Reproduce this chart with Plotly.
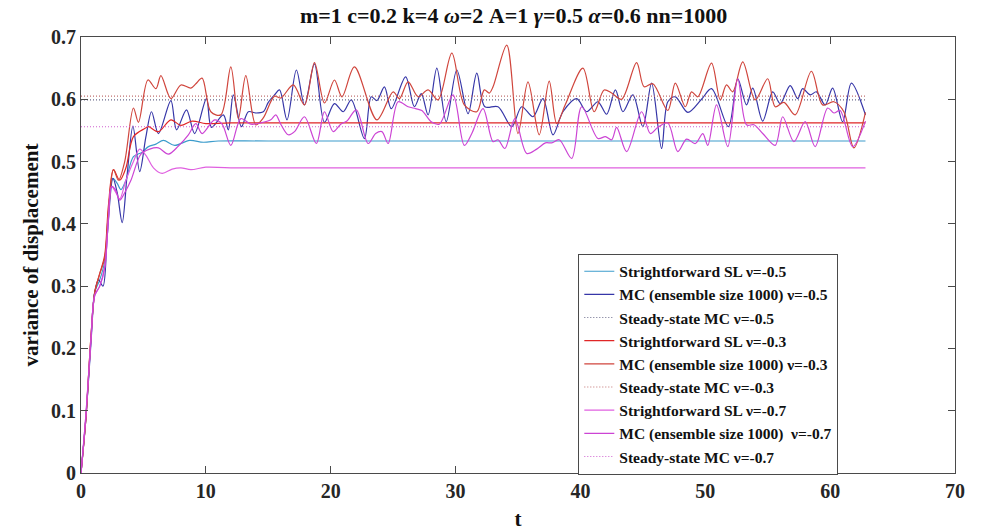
import plotly.graph_objects as go

T_END = 62.83

# ---------------- data ----------------
# Strightforward SL nu=-0.5
t_sl05 = [0, 0.4, 0.8, 1.1, 1.5, 1.9, 2.2, 2.55, 2.9, 3.2, 3.6, 4.2, 4.9, 5.4, 6.0, 6.6, 7.5, 8.7, 9.8, 11, 15, T_END]
v_sl05 = [0, 0.09, 0.215, 0.29, 0.31, 0.34, 0.42, 0.473, 0.465, 0.455, 0.47, 0.508, 0.515, 0.524, 0.528, 0.534, 0.526, 0.534, 0.531, 0.533, 0.533, 0.533]

# MC nu=-0.5
t_mc05 = [0, 0.4, 0.8, 1.1, 1.4, 1.76, 2.1, 2.56, 2.9, 3.3, 3.7, 4.16, 4.7, 5.2, 5.65, 6.2, 7.2, 7.65, 8.45, 9.1,
          10.05, 10.45, 11.4, 11.8, 12.2, 12.85, 13.4, 14.0, 14.6, 15.0, 15.5, 15.9, 16.5, 17.25, 17.9, 18.7, 19.5,
          20.3, 21.0, 21.65, 22.7, 23.25, 23.7, 24.3, 24.85, 26.0, 26.7, 27.25, 27.8, 28.5, 29.25, 30.1, 31.0, 31.7,
          32.35, 33.4, 34.5, 35.3, 36.2, 37.0, 37.8, 38.6, 39.7, 40.5, 41.4, 42.1, 42.8, 43.4, 44.2, 45.0, 45.7, 46.5,
          47.0, 47.6, 48.6, 49.7, 50.5, 51.85, 52.6, 53.3, 53.8, 54.6, 55.4, 56.0, 56.8, 57.4, 57.8, 58.4, 58.9,
          59.6, 60.2, 61.0, 61.7, T_END]
v_mc05 = [0, 0.09, 0.21, 0.29, 0.31, 0.30, 0.38, 0.473, 0.45, 0.402, 0.48, 0.557, 0.484, 0.54, 0.58, 0.545, 0.598, 0.551, 0.583, 0.545,
          0.601, 0.555, 0.575, 0.551, 0.607, 0.556, 0.58, 0.578, 0.58, 0.595, 0.607, 0.615, 0.567, 0.647, 0.591, 0.657, 0.563,
          0.593, 0.58, 0.599, 0.537, 0.604, 0.598, 0.620, 0.585, 0.636, 0.588, 0.609, 0.575, 0.650, 0.564, 0.647, 0.577, 0.642,
          0.588, 0.588, 0.556, 0.588, 0.572, 0.601, 0.543, 0.58, 0.601, 0.580, 0.596, 0.576, 0.615, 0.580, 0.607, 0.556, 0.626, 0.521,
          0.596, 0.604, 0.579, 0.600, 0.617, 0.556, 0.633, 0.591, 0.618, 0.565, 0.612, 0.593, 0.622, 0.601, 0.617, 0.607, 0.612,
          0.591, 0.618, 0.564, 0.626, 0.575]

ss05 = 0.599

# Strightforward SL nu=-0.3
t_sl03 = [0, 0.4, 0.8, 1.1, 1.5, 1.9, 2.2, 2.6, 3.1, 3.6, 4.2, 5.1, 5.4, 6.2, 7.2, 8.0, 8.9, 10, 12, T_END]
v_sl03 = [0, 0.09, 0.22, 0.29, 0.32, 0.35, 0.43, 0.487, 0.47, 0.49, 0.540, 0.553, 0.556, 0.548, 0.567, 0.558, 0.565, 0.561, 0.562, 0.562]

# MC nu=-0.3
t_mc03 = [0, 0.4, 0.8, 1.1, 1.5, 1.9, 2.2, 2.6, 3.0, 3.5, 4.2, 4.6, 5.36, 6.0, 6.4, 7.2, 8.0, 8.8, 9.2, 9.7,
          10.4, 11.2, 12.0, 12.6, 13.2, 14.0, 14.6, 15.5, 16.0, 17.0, 17.9, 18.7, 19.5, 20.3, 20.9, 21.9, 23.7,
          25.0, 25.5, 26.2, 27.0, 27.8, 28.6, 29.7, 30.7, 31.7, 32.3, 32.7, 33.0, 34.1, 35.0, 35.8, 36.7, 37.5,
          38.1, 38.8, 40.2, 41.1, 41.9, 42.5, 43.3, 44.5, 45.1, 45.8, 47.0, 47.6, 48.4, 48.9, 49.4, 50.5, 51.2,
          51.7, 52.2, 53.0, 54.0, 55.0, 55.6, 56.3, 57.2, 58.5, 59.4, 60.3, 61.1, 61.9, T_END]
v_mc03 = [0, 0.09, 0.22, 0.29, 0.32, 0.345, 0.42, 0.487, 0.47, 0.5, 0.586, 0.563, 0.631, 0.617, 0.638, 0.601, 0.623, 0.618, 0.625, 0.634,
          0.580, 0.575, 0.652, 0.569, 0.638, 0.559, 0.570, 0.605, 0.602, 0.623, 0.591, 0.659, 0.594, 0.631, 0.604, 0.652, 0.567,
          0.612, 0.601, 0.628, 0.604, 0.615, 0.599, 0.674, 0.591, 0.580, 0.615, 0.610, 0.62, 0.687, 0.545, 0.628, 0.543, 0.629,
          0.561, 0.592, 0.650, 0.580, 0.615, 0.61, 0.600, 0.659, 0.620, 0.625, 0.582, 0.626, 0.588, 0.612, 0.604, 0.658, 0.599,
          0.623, 0.612, 0.660, 0.599, 0.633, 0.588, 0.595, 0.575, 0.645, 0.591, 0.596, 0.58, 0.522, 0.579]

ss03 = 0.605

# Strightforward SL nu=-0.7
t_sl07 = [0, 0.4, 0.8, 1.1, 1.5, 1.9, 2.2, 2.45, 2.8, 3.1, 3.6, 4.2, 4.7, 5.2, 5.8, 6.5, 7.3, 8.0, 8.8, 10, 12, T_END]
v_sl07 = [0, 0.095, 0.215, 0.285, 0.3, 0.33, 0.41, 0.46, 0.45, 0.44, 0.47, 0.50, 0.52, 0.51, 0.49, 0.481, 0.488, 0.49, 0.487, 0.491, 0.49, 0.49]

# MC nu=-0.7
t_mc07 = [0, 0.4, 0.8, 1.1, 1.5, 1.9, 2.2, 2.45, 2.75, 3.1, 3.5, 4.0, 4.8, 5.5, 6.2, 7.0, 7.8, 8.6, 9.2, 9.7,
          10.7, 11.3, 12.0, 12.8, 13.6, 14.4, 15.2, 15.6, 16.0, 16.6, 17.1, 17.9, 18.85, 19.5, 20.2, 20.8, 21.3,
          22.05, 23.0, 23.6, 24.1, 24.6, 25.4, 26.2, 26.8, 27.3, 28.05, 28.7, 29.8, 30.7, 31.3, 32.2, 33.0, 33.4,
          33.95, 34.75, 35.7, 36.5, 37.2, 37.7, 38.3, 39.3, 40.1, 41.4, 42.0, 42.5, 42.9, 43.7, 44.9, 45.6, 46.2,
          47.0, 47.8, 48.5, 49.2, 49.8, 50.2, 50.9, 51.8, 52.6, 53.3, 53.9, 54.6, 55.6, 56.2, 57.1, 58.0, 58.8,
          59.8, 60.3, 60.8, 61.8, T_END]
v_mc07 = [0, 0.095, 0.215, 0.285, 0.3, 0.33, 0.41, 0.46, 0.455, 0.438, 0.45, 0.47, 0.512, 0.52, 0.522, 0.512, 0.525, 0.543, 0.561, 0.545,
          0.567, 0.56, 0.526, 0.569, 0.56, 0.562, 0.567, 0.575, 0.56, 0.543, 0.548, 0.572, 0.529, 0.580, 0.548, 0.56, 0.565,
          0.583, 0.529, 0.545, 0.548, 0.529, 0.596, 0.588, 0.585, 0.582, 0.564, 0.56, 0.607, 0.526, 0.545, 0.585, 0.532, 0.535,
          0.521, 0.569, 0.513, 0.52, 0.53, 0.53, 0.535, 0.505, 0.588, 0.537, 0.54, 0.535, 0.555, 0.516, 0.580, 0.545, 0.555,
          0.562, 0.516, 0.536, 0.529, 0.545, 0.526, 0.591, 0.524, 0.633, 0.559, 0.559, 0.545, 0.526, 0.572, 0.532, 0.564, 0.524,
          0.586, 0.578, 0.582, 0.524, 0.565]

ss07 = 0.556

t_ss = [0, T_END]

x_ticks = [0, 10, 20, 30, 40, 50, 60, 70]
y_ticks = [0, 0.1, 0.2, 0.3, 0.4, 0.5, 0.6, 0.7]

# ---------------- figure ----------------
FONT = "Liberation Serif"
fig = go.Figure()

def line(t, v, name, color, dash="solid", width=1.2, spline=True):
    fig.add_trace(go.Scatter(
        x=t, y=v, mode="lines", name=name,
        line=dict(color=color, width=width, dash=dash,
                  shape="spline" if spline else "linear", smoothing=0.9),
    ))

DOT = "1px,2px"
line(t_sl05, v_sl05, "Strightforward SL ν=-0.5", "#3c9ccc")
line(t_mc05, v_mc05, "MC (ensemble size 1000) ν=-0.5", "#3636a8")
line(t_ss, [ss05, ss05], "Steady-state MC ν=-0.5", "#6a6a8a", dash=DOT, width=1.1, spline=False)
line(t_sl03, v_sl03, "Strightforward SL ν=-0.3", "#e02626")
line(t_mc03, v_mc03, "MC (ensemble size 1000) ν=-0.3", "#d0453c")
line(t_ss, [ss03, ss03], "Steady-state MC ν=-0.3", "#c07070", dash=DOT, width=1.1, spline=False)
line(t_sl07, v_sl07, "Strightforward SL ν=-0.7", "#e060e0")
line(t_mc07, v_mc07, "MC (ensemble size 1000)  ν=-0.7", "#cc44d4")
line(t_ss, [ss07, ss07], "Steady-state MC ν=-0.7", "#d060d0", dash=DOT, width=1.1, spline=False)

axis_common = dict(
    showline=True, linecolor="#4a4a4a", linewidth=1, mirror="ticks",
    ticks="inside", ticklen=7, tickcolor="#4a4a4a", tickwidth=1,
    showgrid=False, zeroline=False,
    tickfont=dict(family=FONT, size=20, color="#262626", weight="bold"),
)

fig.update_layout(
    width=982, height=531,
    margin=dict(l=81, r=27, t=37, b=58),
    paper_bgcolor="white", plot_bgcolor="white",
    title=dict(
        text="m=1 c=0.2 k=4 <i>ω</i>=2 A=1 <i>γ</i>=0.5 <i>α</i>=0.6 nn=1000",
        font=dict(family=FONT, size=22, color="#111111", weight="bold"),
        x=0.523, xanchor="center", y=1 - 15 / 531, yanchor="middle", yref="container",
    ),
    xaxis=dict(range=[0, 70], tickvals=x_ticks, ticktext=[str(v) for v in x_ticks],
               title=dict(text="t", font=dict(family=FONT, size=21, color="#111111", weight="bold"), standoff=16),
               automargin=False, **axis_common),
    yaxis=dict(range=[0, 0.7], tickvals=y_ticks, ticktext=["0" if v == 0 else f"{v:.1f}" for v in y_ticks],
               title=dict(text="variance of displacement", font=dict(family=FONT, size=21, color="#111111", weight="bold"), standoff=6),
               automargin=False, **axis_common),
    legend=dict(
        x=0.569, y=0.503, xanchor="left", yanchor="top",
        bgcolor="white", bordercolor="#4a4a4a", borderwidth=1,
        font=dict(family=FONT, size=15.5, color="#111111", weight="bold"),
        itemwidth=30, tracegroupgap=0,
        entrywidth=285, entrywidthmode="pixels",
    ),
    showlegend=True,
)

fig.write_html("out.html")
